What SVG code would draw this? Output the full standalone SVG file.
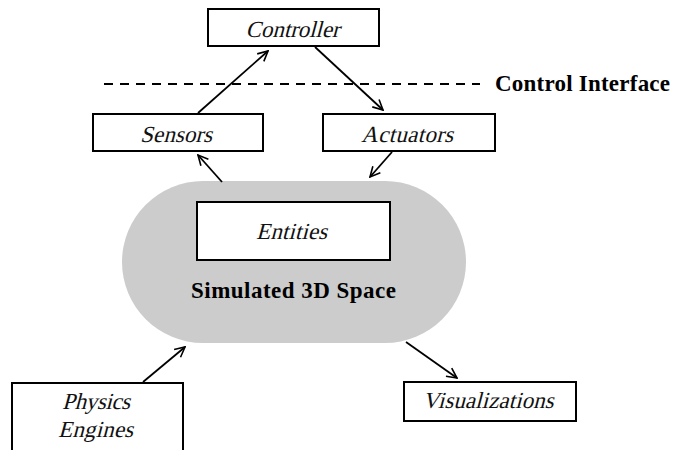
<svg xmlns="http://www.w3.org/2000/svg" width="673" height="450" viewBox="0 0 673 450">
<defs>
<marker id="arr" viewBox="0 0 12 12" refX="11" refY="6" markerWidth="12" markerHeight="12" markerUnits="userSpaceOnUse" orient="auto">
<path d="M1,1 L11,6 L1,11" fill="none" stroke="#000" stroke-width="1.6"/>
</marker>
<style>
text{font-family:'Liberation Serif','Times New Roman',serif}
.box{fill:#fff;stroke:#000;stroke-width:2}
.it{font-size:23px;fill:#111;text-anchor:middle}
.bd{font-weight:bold;font-size:23px;fill:#000}
.ln{stroke:#000;stroke-width:1.8;fill:none;marker-end:url(#arr)}
</style>
</defs>
<rect width="673" height="450" fill="#fff"/>
<g id="interface">
<line x1="104" y1="84" x2="480" y2="84" stroke="#000" stroke-width="2" stroke-dasharray="9,7"/>
<text class="bd" x="495" y="91" textLength="175">Control Interface</text>
</g>
<g id="space">
<rect x="122" y="181" width="344" height="162" rx="81" ry="81" fill="#cccccc"/>
<text class="bd" x="293.5" y="298" text-anchor="middle" textLength="205">Simulated 3D Space</text>
</g>
<g id="entities">
<rect class="box" x="197" y="202" width="193" height="58"/>
<text class="it" transform="translate(291.5,239) skewX(-15)" textLength="71">Entities</text>
</g>
<g id="controller">
<rect class="box" x="208" y="9" width="171" height="37"/>
<text class="it" transform="translate(292.5,37) skewX(-15)" textLength="94">Controller</text>
</g>
<g id="sensors">
<rect class="box" x="93" y="114" width="170" height="37"/>
<text class="it" transform="translate(176,142) skewX(-15)" textLength="72">Sensors</text>
</g>
<g id="actuators">
<rect class="box" x="323" y="114" width="172" height="37"/>
<text class="it" transform="translate(407,142) skewX(-15)" textLength="92">Actuators</text>
</g>
<g id="physics">
<rect class="box" x="12" y="383" width="171" height="80"/>
<text class="it" transform="translate(96,409) skewX(-15)" textLength="68">Physics</text>
<text class="it" transform="translate(95.5,437) skewX(-15)" textLength="75">Engines</text>
</g>
<g id="visualizations">
<rect class="box" x="404" y="382" width="172" height="39"/>
<text class="it" transform="translate(488,408) skewX(-15)" textLength="131">Visualizations</text>
</g>
<g id="connectors">
<line class="ln" x1="198" y1="113" x2="268" y2="51"/>
<line class="ln" x1="315" y1="47" x2="383" y2="110"/>
<line class="ln" x1="392" y1="152" x2="370" y2="177"/>
<line class="ln" x1="222" y1="182" x2="198" y2="155"/>
<line class="ln" x1="143" y1="382" x2="185" y2="347"/>
<line class="ln" x1="406" y1="342" x2="457" y2="378"/>
</g>
</svg>
